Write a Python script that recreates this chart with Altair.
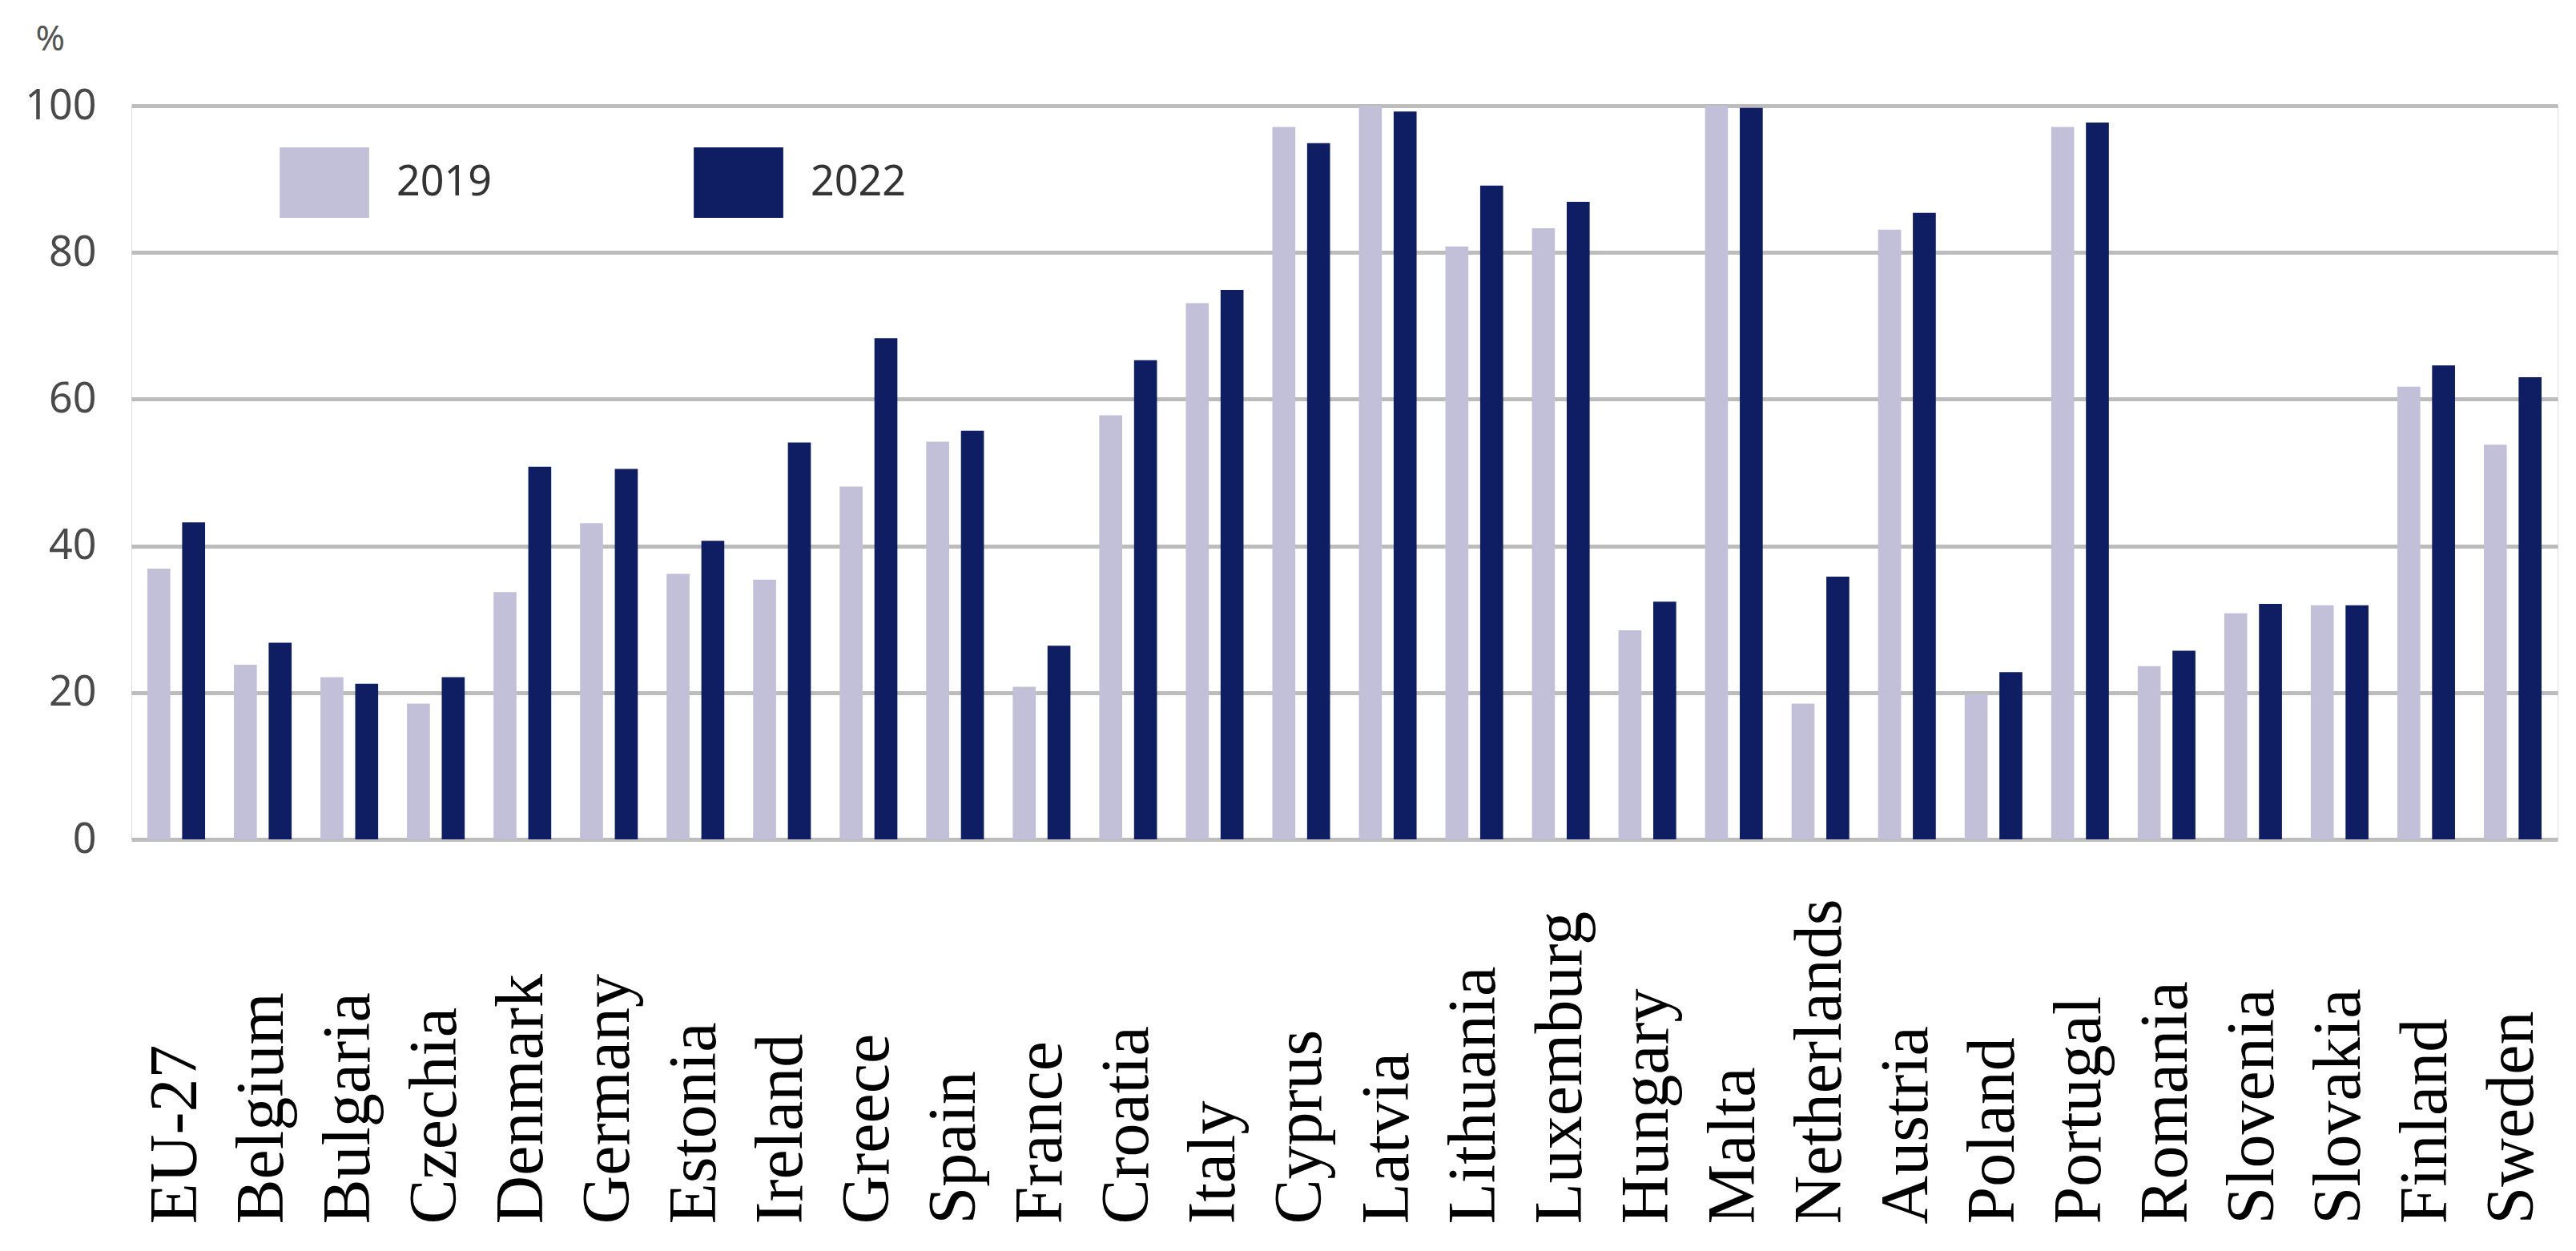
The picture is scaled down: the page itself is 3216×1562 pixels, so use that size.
import altair as alt
import pandas as pd

countries = ["EU-27", "Belgium", "Bulgaria", "Czechia", "Denmark", "Germany", "Estonia",
             "Ireland", "Greece", "Spain", "France", "Croatia", "Italy", "Cyprus", "Latvia",
             "Lithuania", "Luxemburg", "Hungary", "Malta", "Netherlands", "Austria", "Poland",
             "Portugal", "Romania", "Slovenia", "Slovakia", "Finland", "Sweden"]
v2019 = [36.9, 23.8, 22.1, 18.5, 33.7, 43.1, 36.2, 35.4, 48.1, 54.2, 20.8, 57.8, 73.1, 97.1,
         100.0, 80.8, 83.3, 28.5, 100.0, 18.5, 83.1, 19.8, 97.1, 23.6, 30.8, 31.9, 61.7, 53.8]
v2022 = [43.2, 26.8, 21.2, 22.1, 50.8, 50.5, 40.7, 54.1, 68.3, 55.7, 26.4, 65.3, 74.9, 94.9,
         99.2, 89.1, 86.9, 32.4, 99.7, 35.8, 85.4, 22.8, 97.7, 25.7, 32.1, 31.9, 64.6, 63.0]
years = ["2019", "2022"]
colors = ["#c1c0d8", "#0f1d62"]
y_ticks = [0, 20, 40, 60, 80, 100]

rows = []
for c, a, b in zip(countries, v2019, v2022):
    rows.append({"country": c, "year": years[0], "value": a})
    rows.append({"country": c, "year": years[1], "value": b})
df = pd.DataFrame(rows)

legend_rect = "M-1.27,-1 L1.27,-1 L1.27,1 L-1.27,1 Z"

chart = alt.Chart(df).mark_bar().encode(
    x=alt.X("country:N", sort=countries,
            scale=alt.Scale(paddingInner=0.333, paddingOuter=0.185),
            axis=alt.Axis(title=None, labelAngle=270, labelAlign="left", labelBaseline="middle",
                          labelPadding=480, labelFont="Liberation Serif", labelFontSize=84,
                          labelColor="#000000", labelLimit=0, labelOverlap=False, labelBound=False,
                          domain=False, ticks=False, grid=False)),
    xOffset=alt.XOffset("year:N", sort=years, scale=alt.Scale(paddingInner=0.34, paddingOuter=0)),
    y=alt.Y("value:Q", scale=alt.Scale(domain=[0, 100], nice=False),
            axis=alt.Axis(title="%", titleAngle=0, titleAlign="left", titleBaseline="alphabetic",
                          titleX=-120, titleY=-70, titleFont="Noto Sans", titleFontSize=44,
                          titleFontWeight="normal", titleColor="#555555",
                          values=y_ticks, labelFont="Noto Sans", labelFontSize=52,
                          labelColor="#4a4a4a", labelPadding=44, domain=False, ticks=False,
                          grid=True, gridColor="#bcbcbc", gridWidth=5)),
    color=alt.Color("year:N", sort=years, scale=alt.Scale(domain=years, range=colors),
                    legend=alt.Legend(title=None, orient="none", direction="horizontal",
                                      legendX=197, legendY=52, padding=0,
                                      symbolType=legend_rect, symbolSize=7744,
                                      symbolStrokeWidth=0, symbolOpacity=1,
                                      labelFont="Noto Sans", labelFontSize=52,
                                      labelColor="#333333", labelOffset=46,
                                      columnPadding=252)),
).properties(
    width=3029, height=916,
    autosize=alt.AutoSizeParams(type="none"),
    padding={"left": 156, "top": 124, "right": 15, "bottom": 490},
).configure_view(stroke=None).configure(background="white")

chart.save("out.html", embed_options={"renderer": "svg", "actions": False})
